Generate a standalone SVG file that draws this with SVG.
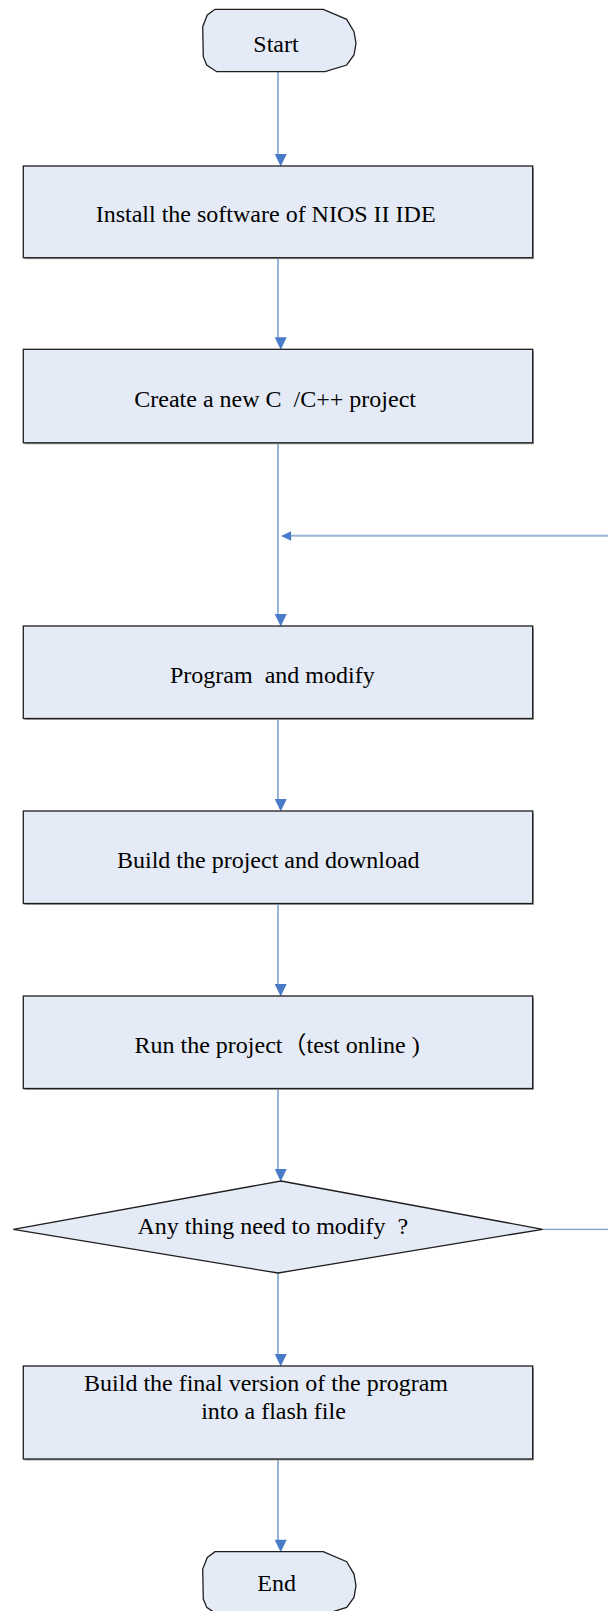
<svg xmlns="http://www.w3.org/2000/svg" xmlns:xlink="http://www.w3.org/1999/xlink" width="608" height="1611" viewBox="0 0 608 1611">
  <style>
    .box { fill: #e5ebf6; stroke: #1e1e1e; stroke-width: 1.3; }
    .shadow { fill: #a3a3a3; }
    .label { font-family: "Liberation Serif", "Times New Roman", "Noto Sans CJK SC", serif; font-size: 24px; fill: #000; white-space: pre; }
    .flow { stroke: #97b5dc; stroke-width: 2; fill: none; }
    .thin { stroke: #7c9cd0; stroke-width: 1.2; fill: none; }
    .head { fill: #4a7bc8; }
  </style>
  <defs>
    <!-- rounded terminator outline, drawn with straight facets -->
    <path id="term" d="M215,9.3 H323.3 L346.7,19.3 L354,31.7 L356,43.3 L354,55 L346.7,65 L325,71.7 H216.7 L206.7,65 L203.3,56.7 L202.7,26.7 L207.3,15 Z"/>
    <!-- downward arrowhead, tip at origin -->
    <path id="arrow" d="M-6,-12 L6,-12 L0,0.5 Z"/>
  </defs>

  <g id="connectors">
    <line class="flow" x1="278" y1="71.7" x2="278" y2="155"/>
    <line class="flow" x1="278" y1="258" x2="278" y2="338"/>
    <line class="flow" x1="278" y1="443.5" x2="278" y2="615"/>
    <line class="flow" x1="291" y1="535.7" x2="608" y2="535.7"/>
    <line class="flow" x1="278" y1="719" x2="278" y2="800"/>
    <line class="flow" x1="278" y1="904" x2="278" y2="985"/>
    <line class="flow" x1="278" y1="1089" x2="278" y2="1170"/>
    <line class="flow" x1="278" y1="1273" x2="278" y2="1355"/>
    <line class="flow" x1="278" y1="1459" x2="278" y2="1541"/>
    <line class="thin" x1="542.7" y1="1229.3" x2="608" y2="1229.3"/>
    <use xlink:href="#arrow" class="head" x="280.7" y="166"/>
    <use xlink:href="#arrow" class="head" x="280.7" y="349.3"/>
    <use xlink:href="#arrow" class="head" x="280.7" y="626"/>
    <use xlink:href="#arrow" class="head" x="280.7" y="811"/>
    <use xlink:href="#arrow" class="head" x="280.7" y="996"/>
    <use xlink:href="#arrow" class="head" x="280.7" y="1181"/>
    <use xlink:href="#arrow" class="head" x="280.7" y="1366"/>
    <use xlink:href="#arrow" class="head" x="280.7" y="1551.7"/>
    <use xlink:href="#arrow" class="head" transform="translate(281.5,536) rotate(90) scale(0.8)"/>
  </g>

  <g id="start">
    <use xlink:href="#term" class="box"/>
    <text class="label" x="276" y="51.7" text-anchor="middle">Start</text>
  </g>

  <g id="install">
    <rect class="shadow" x="24.5" y="167.5" width="509.4" height="91.7"/>
    <rect class="box" x="23.3" y="166" width="509.4" height="91.7"/>
    <text class="label" x="95.7" y="221.7">Install the software of NIOS II IDE</text>
  </g>

  <g id="create">
    <rect class="shadow" x="24.5" y="350.8" width="509.4" height="93.5"/>
    <rect class="box" x="23.3" y="349.3" width="509.4" height="93.5"/>
    <text class="label" x="134.3" y="406.7">Create a new C  /C++ project</text>
  </g>

  <g id="program">
    <rect class="shadow" x="24.5" y="627.5" width="509.4" height="92.5"/>
    <rect class="box" x="23.3" y="626" width="509.4" height="92.5"/>
    <text class="label" x="170" y="682.5">Program  and modify</text>
  </g>

  <g id="build">
    <rect class="shadow" x="24.5" y="812.5" width="509.4" height="92.5"/>
    <rect class="box" x="23.3" y="811" width="509.4" height="92.5"/>
    <text class="label" x="117" y="867.5">Build the project and download</text>
  </g>

  <g id="run">
    <rect class="shadow" x="24.5" y="997.5" width="509.4" height="92.5"/>
    <rect class="box" x="23.3" y="996" width="509.4" height="92.5"/>
    <text class="label" x="134.5" y="1052.5">Run the project（test online )</text>
  </g>

  <g id="decision">
    <polygon class="box" points="281,1181 542.7,1229.3 278,1273 13.3,1229.3"/>
    <text class="label" x="137.5" y="1234.3">Any thing need to modify  ?</text>
  </g>

  <g id="flash">
    <rect class="shadow" x="24.5" y="1367.5" width="509.4" height="93"/>
    <rect class="box" x="23.3" y="1366" width="509.4" height="93"/>
    <text class="label" x="266" y="1390.6" text-anchor="middle">Build the final version of the program</text>
    <text class="label" x="273.5" y="1418.5" text-anchor="middle">into a flash file</text>
  </g>

  <g id="end">
    <use xlink:href="#term" class="box" transform="translate(0,1542.4)"/>
    <text class="label" x="276.7" y="1591" text-anchor="middle">End</text>
  </g>
</svg>
